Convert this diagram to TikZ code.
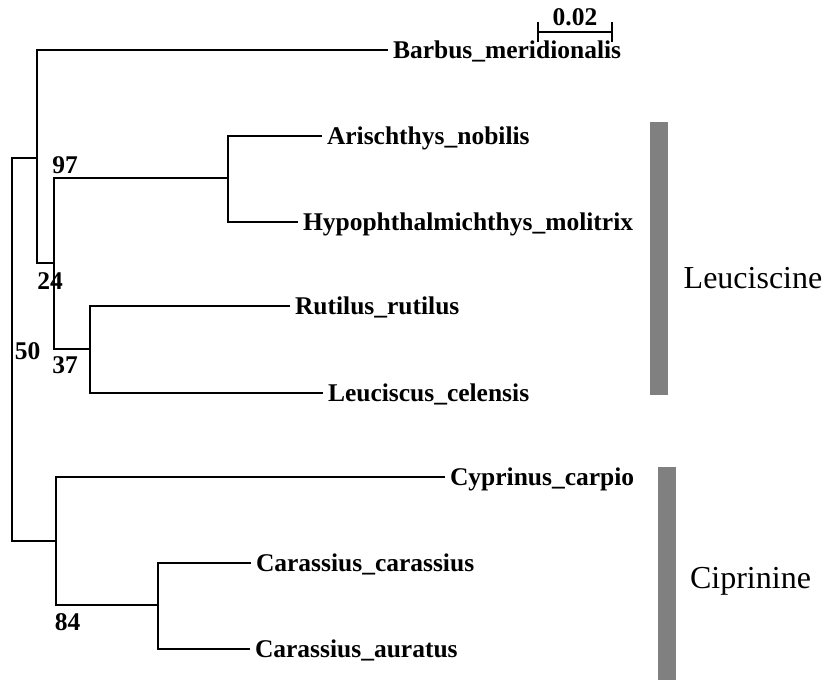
\documentclass[tikz,border=0pt]{standalone}
\usepackage{fontspec}
\setmainfont{Liberation Serif}
\usepackage{tikz}
\usetikzlibrary{positioning}

\begin{document}
\begin{tikzpicture}[
    x=1pt, y=-1pt,
    branch/.style={line width=1.2pt},
    leaf/.style={anchor=west, inner sep=5pt, outer sep=0pt, text height=17pt, text depth=0pt,
                 font=\bfseries\fontsize{25.5}{30}\selectfont},
    boot/.style={inner sep=0pt, text height=17pt, text depth=0pt,
                 font=\bfseries\fontsize{25.5}{30}\selectfont},
    cladebar/.style={fill=black!50, draw=none},
    clade/.style={inner sep=0pt, text height=21pt, text depth=0pt,
                  font=\fontsize{32}{38}\selectfont}
]
\useasboundingbox (0,0) rectangle (830,680);

\coordinate (root) at (12,350);
\coordinate (A) at (37,158);
\coordinate (B) at (54,263);
\coordinate (C) at (228,178);
\coordinate (D) at (90,349);
\coordinate (Cip) at (56,541);
\coordinate (E) at (158,605);

\node[leaf] (barbus) at (388,50) {Barbus\_meridionalis};
\node[leaf] (aris) at (322,136) {Arischthys\_nobilis};
\node[leaf] (hypo) at (298,222) {Hypophthalmichthys\_molitrix};
\node[leaf] (rutilus) at (290,306) {Rutilus\_rutilus};
\node[leaf] (leuc) at (323,393) {Leuciscus\_celensis};
\node[leaf] (cyprinus) at (445,477) {Cyprinus\_carpio};
\node[leaf] (carass) at (251,563) {Carassius\_carassius};
\node[leaf] (auratus) at (250,649) {Carassius\_auratus};

\draw[branch] (root) |- (A);
\draw[branch] (root) |- (Cip);
\draw[branch] (A) |- (barbus.west);
\draw[branch] (A) |- (B);
\draw[branch] (B) |- (C);
\draw[branch] (B) |- (D);
\draw[branch] (C) |- (aris.west);
\draw[branch] (C) |- (hypo.west);
\draw[branch] (D) |- (rutilus.west);
\draw[branch] (D) |- (leuc.west);
\draw[branch] (Cip) |- (cyprinus.west);
\draw[branch] (Cip) |- (E);
\draw[branch] (E) |- (carass.west);
\draw[branch] (E) |- (auratus.west);

\node[boot] (b97) at (65,165) {97};
\node[boot] (b24) at (50,281) {24};
\node[boot] (b50) at (27.5,351) {50};
\node[boot] (b37) at (65,365) {37};
\node[boot] (b84) at (67.5,622) {84};

\coordinate (sbl) at (538,32);
\coordinate (sbr) at (612,32);
\draw[branch] (sbl) -- (sbr);
\draw[branch] ([yshift=-10pt]sbl) -- ([yshift=10pt]sbl);
\draw[branch] ([yshift=-10pt]sbr) -- ([yshift=10pt]sbr);
\node[boot] (scale) at (575,16.5) {0.02};

\fill[cladebar] (650,122) rectangle (668,395);
\fill[cladebar] (658,467) rectangle (676,680);
\node[clade] (leucisc) at (753,277.5) {Leuciscine};
\node[clade] (ciprin) at (750.5,577.5) {Ciprinine};
\end{tikzpicture}
\end{document}
